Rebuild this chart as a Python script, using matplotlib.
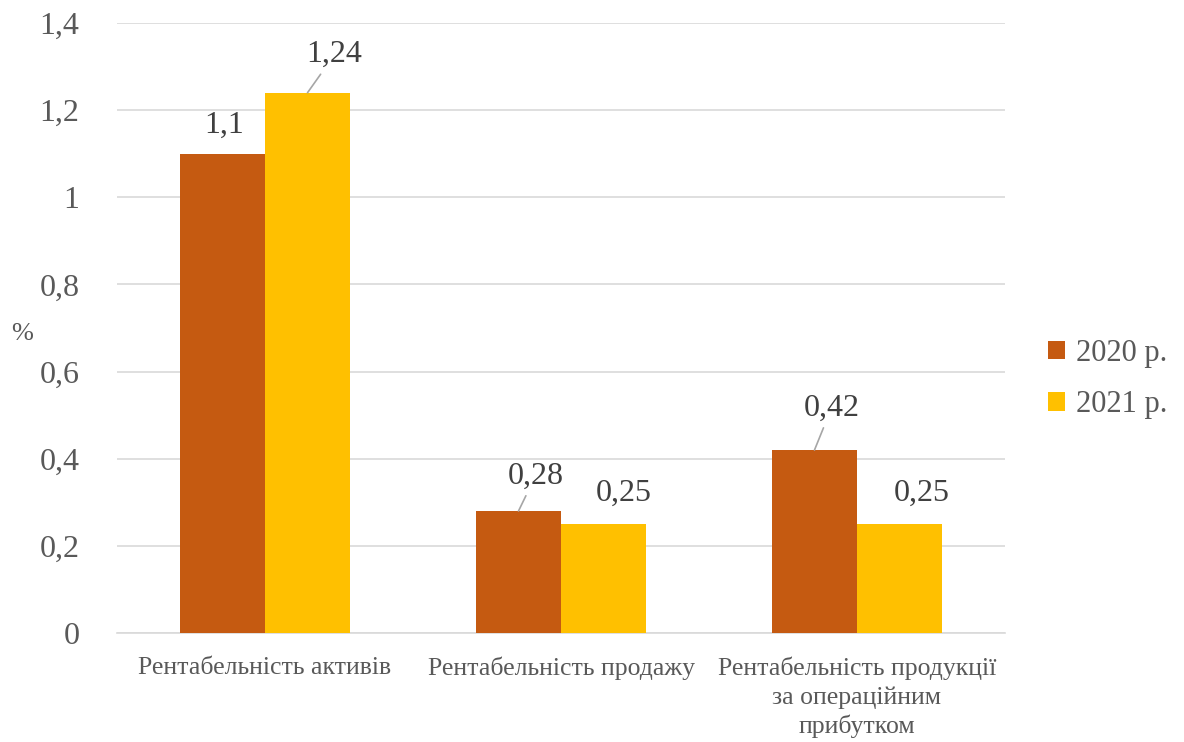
import numpy as np
import matplotlib.pyplot as plt

categories = ["Рентабельність активів", "Рентабельність продажу",
              "Рентабельність продукції\nза операційним\nприбутком"]
series_names = ["2020 р.", "2021 р."]
values_2020 = [1.1, 0.28, 0.42]
values_2021 = [1.24, 0.25, 0.25]
y_ticks = [0, 0.2, 0.4, 0.6, 0.8, 1.0, 1.2, 1.4]
y_tick_labels = ["0", "0,2", "0,4", "0,6", "0,8", "1", "1,2", "1,4"]

colors = ["#C55A11", "#FFC000"]
text_color = "#595959"

plt.rcParams['font.family'] = ['Liberation Serif', 'DejaVu Serif']

fig = plt.figure(figsize=(11.84, 7.42), dpi=100)
ax = fig.add_axes([117 / 1184, 1 - 633 / 742, (1005 - 117) / 1184, (633 - 23) / 742])

x = np.arange(len(categories))
w = 85 / 296
bars1 = ax.bar(x - w / 2, values_2020, w, color=colors[0], label=series_names[0], zorder=3)
bars2 = ax.bar(x + w / 2, values_2021, w, color=colors[1], label=series_names[1], zorder=3)

ax.set_xlim(-0.5, 2.5)
ax.set_ylim(0, 1.4)
ax.set_yticks(y_ticks)
ax.set_yticklabels(y_tick_labels, fontsize=23, color=text_color)
ax.set_xticks(x)
ax.set_xticklabels(categories, fontsize=18.5, color=text_color, linespacing=1.34)
ax.tick_params(axis='y', length=0, pad=27)
ax.tick_params(axis='x', length=0, pad=17)
ax.grid(axis='y', color="#D9D9D9", linewidth=1.2, zorder=0)
for s in ['top', 'right', 'left']:
    ax.spines[s].set_visible(False)
ax.spines['bottom'].set_color("#D9D9D9")
ax.spines['bottom'].set_linewidth(1.2)

ax.text(-0.107, 0.49, "%", transform=ax.transAxes, fontsize=19, color=text_color,
        ha='center', va='center')

# data labels: (dx, dy) pixel offsets of label centre from bar top, leader line flag
label_offsets = {
    (0, 0): (2, 28, False), (0, 1): (27, 38, True),
    (1, 0): (17, 35, True), (1, 1): (20, 31, False),
    (2, 0): (17, 42, True), (2, 1): (22, 31, False),
}
for si, bars in enumerate([bars1, bars2]):
    for ci, b in enumerate(bars):
        val = b.get_height()
        dx, dy, leader = label_offsets[(ci, si)]
        txt = f"{val:g}".replace(".", ",")
        props = None
        if leader:
            props = dict(arrowstyle='-', color="#A6A6A6", lw=1.2, shrinkA=2, shrinkB=0)
        ax.annotate(txt, xy=(b.get_x() + b.get_width() / 2, val),
                    xytext=(dx, dy), textcoords='offset pixels',
                    ha='center', va='center', fontsize=23, color="#404040",
                    arrowprops=props, zorder=4)

fig.legend(loc='center left', bbox_to_anchor=(1021 / 1184, 1 - 379 / 742),
           frameon=False, fontsize=22, labelcolor=text_color,
           handlelength=0.55, handleheight=0.55, handletextpad=0.35, labelspacing=0.75)

fig.savefig("out.png", dpi=100)
